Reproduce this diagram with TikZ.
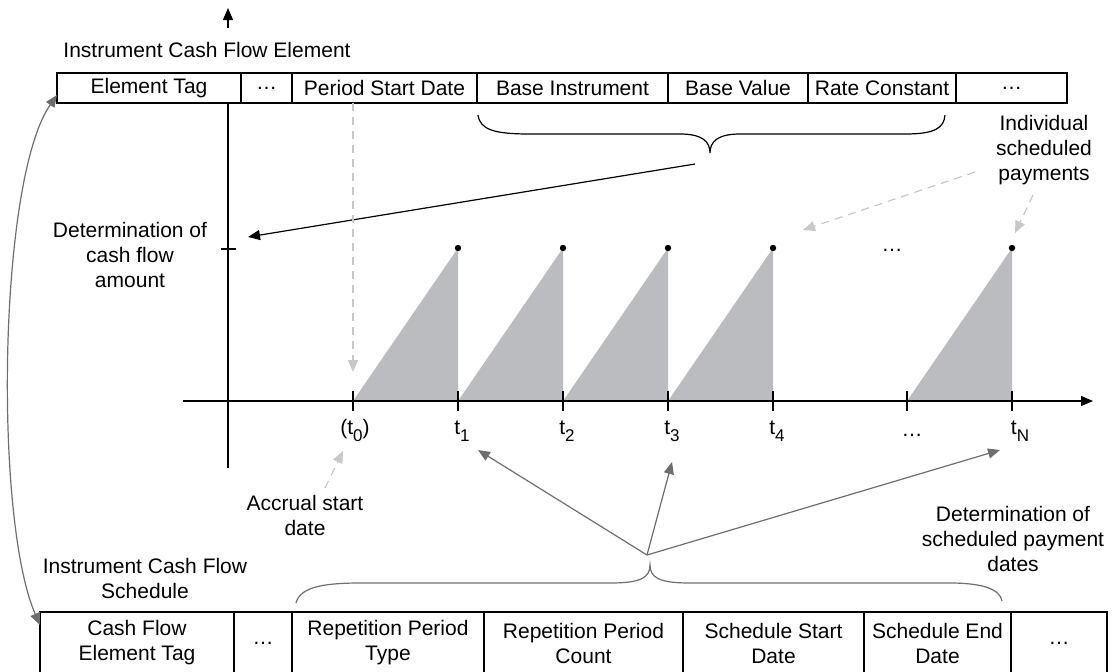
\documentclass[tikz,border=0pt]{standalone}
\usepackage{fontspec}
\setmainfont{Liberation Sans}
\usetikzlibrary{positioning,arrows.meta}
\definecolor{tri}{RGB}{187,188,191}
\definecolor{dgray}{RGB}{110,110,110}
\definecolor{lgray}{RGB}{200,200,200}
\newcommand{\tsub}[1]{\raisebox{-3.5pt}{\fontsize{8.5}{9}\selectfont#1}}

\begin{document}
\begin{tikzpicture}[x=0.5pt,y=-0.5pt,font=\fontsize{10.5}{12.5}\selectfont,>={Triangle[length=6pt,width=5pt]},
cell/.style={draw,line width=0.6pt,outer sep=0pt,inner sep=1pt,minimum height=15pt,align=center},
bcell/.style={cell,line width=1pt,minimum height=31pt},
txt/.style={align=center,inner sep=0pt},
tl/.style={inner sep=0pt,anchor=base},
line/.style={->,line width=0.6pt},
gline/.style={line,dgray},
dline/.style={line,lgray,dash pattern=on 4pt off 3pt},
axis/.style={line width=0.6pt}]
\useasboundingbox (0,0) rectangle (1113,671);
\node[txt] (ice) at (207,50) {Instrument Cash Flow Element};
\node[cell,minimum width=92pt,anchor=west] (tag) at (57,88) {Element Tag};
\node[cell,minimum width=25.5pt,right=0pt of tag] (e1) {\dots};
\node[cell,minimum width=92.5pt,right=0pt of e1] (psd) {Period Start Date};
\node[cell,minimum width=95.5pt,right=0pt of psd] (bi) {Base Instrument};
\node[cell,minimum width=70pt,right=0pt of bi] (bv) {Base Value};
\node[cell,minimum width=74pt,right=0pt of bv] (rc) {Rate Constant};
\node[cell,minimum width=55.5pt,right=0pt of rc] (e2) {\dots};
\draw[line width=0.6pt] (478,115) .. controls (480,130) and (495,134) .. (530,134) -- (680,134) .. controls (703,134) and (710,142) .. (710,153) .. controls (710,142) and (717,134) .. (740,134) -- (905,134) .. controls (935,134) and (944,128) .. (945,115);
\node[txt] (dca) at (130,255) {Determination of\\cash flow\\amount};
\node[txt] (isp) at (1044,150) {Individual\\scheduled\\payments};
\coordinate (o) at (228,401);
\coordinate (x0) at (353,401);
\coordinate (tb) at (695,164);
\coordinate (amt) at (248,237);
\foreach \a/\b in {353/458,458/563,563/668,668/773,907/1012}{
  \fill[tri] (\a,401) -- (\b,248) -- (\b,401) -- cycle;
  \fill (\b,248) circle (1.6pt);}
\node[txt] (pd) at (892,250) {\dots};
\draw[axis] (o |- tag.south) -- (228,468);
\draw[line] (228,28) -- (228,8);
\draw[line] (183,401) -- (1093,401);
\draw[axis] (221,249) -- (236,249);
\foreach \x in {353,458,563,668,773,907,1012} \draw[axis] (\x,391) -- (\x,411);
\node[tl] (l0) at (355,434) {(t\tsub{0})};
\node[tl] (l1) at (462,434) {t\tsub{1}};
\node[tl] (l2) at (567,434) {t\tsub{2}};
\node[tl] (l3) at (672,434) {t\tsub{3}};
\node[tl] (l4) at (777,434) {t\tsub{4}};
\node[tl] (ld) at (912,436) {\dots};
\node[tl] (ln) at (1020,434) {t\tsub{N}};
\draw[line] (tb) -- (amt);
\coordinate (s4) at (975,172);
\coordinate (p4) at (803,230);
\coordinate (sn) at (1033,195);
\coordinate (pn) at (1015,233);
\draw[dline] (psd.south -| x0) -- ([yshift=14.5pt]x0);
\draw[dline] (s4) -- (p4);
\draw[dline] (sn) -- (pn);
\node[txt] (asd) at (305,515) {Accrual start\\date};
\coordinate (sa) at (325,488);
\coordinate (pa) at (343,451);
\draw[dline] (sa) -- (pa);
\node[txt] (ics) at (145,578) {Instrument Cash Flow\\Schedule};
\node[txt] (dsp) at (1013,539) {Determination of\\scheduled payment\\dates};
\node[bcell,minimum width=97pt,anchor=west] (cft) at (40,643) {Cash Flow\\Element Tag};
\node[bcell,minimum width=29pt,right=0pt of cft] (s1) {\dots};
\node[bcell,minimum width=96pt,right=0pt of s1] (rpt) {Repetition Period\\Type};
\node[bcell,minimum width=99.5pt,right=0pt of rpt] (rpc) {Repetition Period\\Count};
\node[bcell,minimum width=90.5pt,right=0pt of rpc] (ssd) {Schedule Start\\Date};
\node[bcell,minimum width=73.5pt,right=0pt of ssd] (sed) {Schedule End\\Date};
\node[bcell,minimum width=48pt,right=0pt of sed] (s2) {\dots};
\draw[dgray,line width=0.6pt] (296,603) .. controls (300,588) and (320,583) .. (360,583) -- (610,583) .. controls (640,583) and (650,578) .. (650,565) .. controls (650,578) and (660,583) .. (690,583) -- (950,583) .. controls (985,583) and (1000,590) .. (1002,601);
\coordinate (bt) at (647,555);
\coordinate (a1) at (478,450);
\coordinate (a3) at (672,462);
\coordinate (an) at (1000,450);
\draw[gline] (bt) -- (a1);\draw[gline] (bt) -- (a3);\draw[gline] (bt) -- (an);
\draw[gline,<->] ([yshift=-3.5pt]tag.west) .. controls (-2,180) and (-6,520) .. ([yshift=9pt]cft.west);
\end{tikzpicture}
\end{document}
